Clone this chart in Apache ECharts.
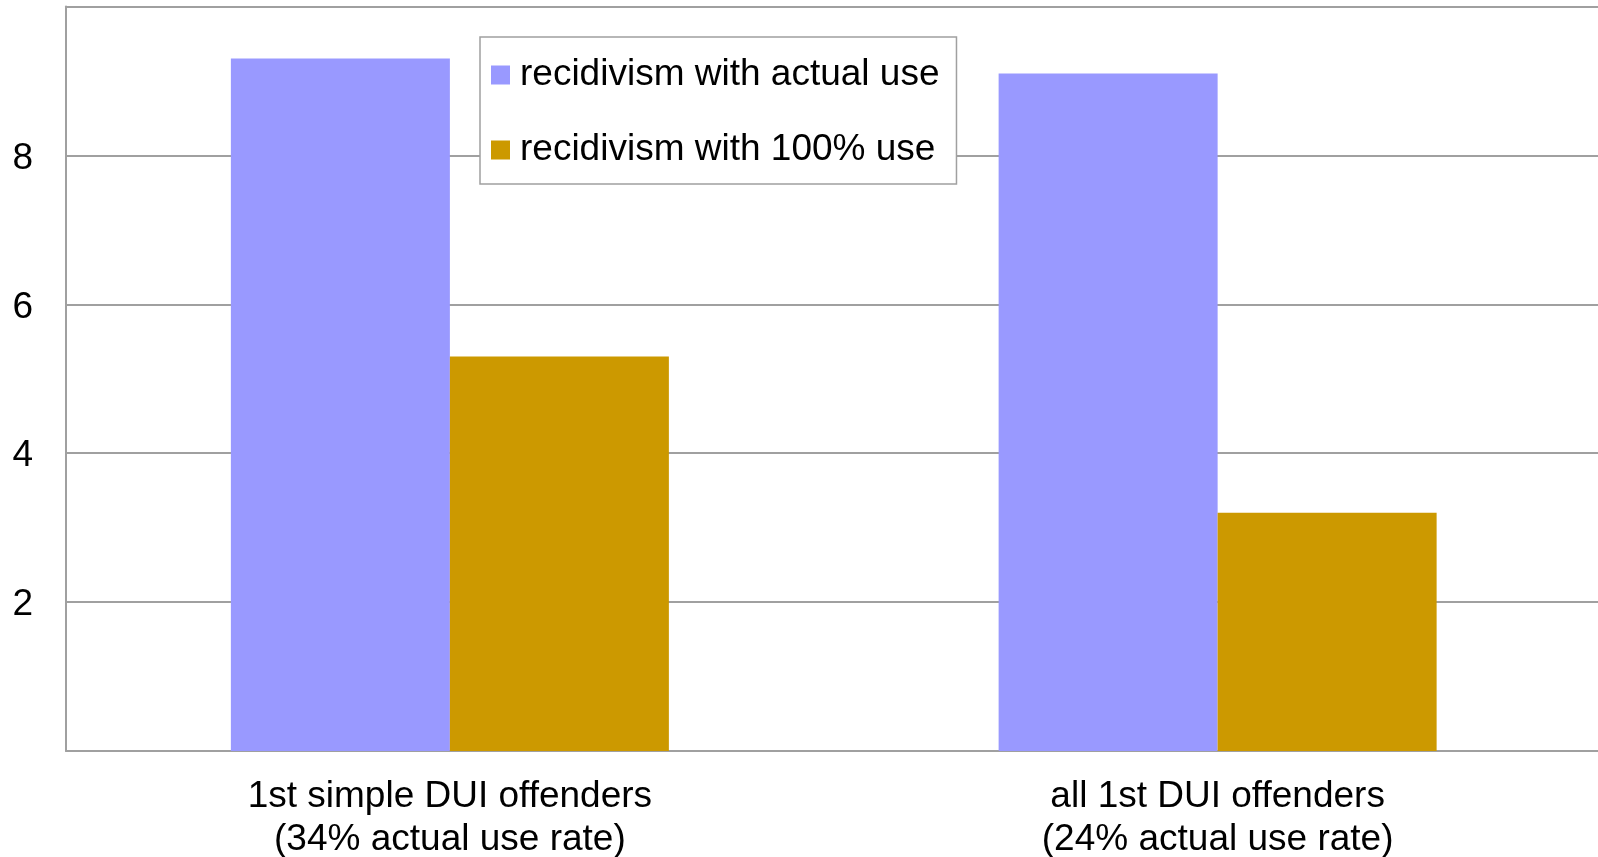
<!DOCTYPE html>
<html>
<head>
<meta charset="utf-8">
<title>DUI recidivism</title>
<script src="https://cdn.jsdelivr.net/npm/echarts@6/dist/echarts.min.js"></script>
<style>
  html, body { margin: 0; padding: 0; background: #ffffff; }
  #chart { width: 1598px; height: 857px; }
</style>
</head>
<body>
<div id="chart"></div>
<script>
// Offender groups along the x axis
const categories = [
  '1st simple DUI offenders\n(34% actual use rate)',
  'all 1st DUI offenders\n(24% actual use rate)'
];
// Recidivism values per group
const actualUse = [9.3, 9.1];
const fullUse = [5.3, 3.2];
const seriesNames = ['recidivism with actual use', 'recidivism with 100% use'];
// Value axis ticks that carry a label
const yTickLabels = [2, 4, 6, 8];

const FONT = '"Liberation Sans", Arial, Helvetica, sans-serif';
const GRID_COLOR = '#a0a0a0';

const chart = echarts.init(document.getElementById('chart'), null, { renderer: 'canvas' });

chart.setOption({
  animation: false,
  backgroundColor: '#ffffff',
  textStyle: { fontFamily: FONT },
  grid: {
    left: 66, right: -3.5, top: 6.5, bottom: 106,
    containLabel: false,
    outerBoundsMode: 'none'
  },
  legend: {
    orient: 'vertical',
    left: 480,
    top: 37,
    padding: [18, 17, 14, 11],
    itemGap: 35,
    itemWidth: 19,
    itemHeight: 19,
    icon: 'rect',
    backgroundColor: '#ffffff',
    borderColor: '#a0a0a0',
    borderWidth: 1.5,
    textStyle: { fontFamily: FONT, fontSize: 37, color: '#000000', lineHeight: 40, padding: [0, 0, 0, 5] },
    data: seriesNames
  },
  xAxis: {
    type: 'category',
    data: categories,
    axisLine: { show: true, lineStyle: { color: GRID_COLOR, width: 2 } },
    axisTick: { show: false },
    axisLabel: { fontFamily: FONT, fontSize: 37, color: '#000000', lineHeight: 43, margin: 24 },
    splitLine: { show: false }
  },
  yAxis: {
    type: 'value',
    min: 0,
    max: 10,
    interval: 2,
    axisLine: { show: true, lineStyle: { color: GRID_COLOR, width: 2 } },
    axisTick: { show: false },
    axisLabel: {
      fontFamily: FONT, fontSize: 37, color: '#000000', margin: 33,
      formatter: v => (yTickLabels.indexOf(v) >= 0 ? '{t|' + v + '}' : ''),
      rich: {
        t: { fontFamily: FONT, fontSize: 37, color: '#000000', padding: [6, 0, 0, 0] }
      }
    },
    splitLine: { show: true, lineStyle: { color: GRID_COLOR, width: 2 } }
  },
  series: [
    {
      name: seriesNames[0],
      type: 'bar',
      data: actualUse,
      barWidth: 219,
      barGap: '0%',
      itemStyle: { color: '#9999ff' }
    },
    {
      name: seriesNames[1],
      type: 'bar',
      data: fullUse,
      barWidth: 219,
      barGap: '0%',
      itemStyle: { color: '#cc9900' }
    }
  ]
});
</script>
</body>
</html>
